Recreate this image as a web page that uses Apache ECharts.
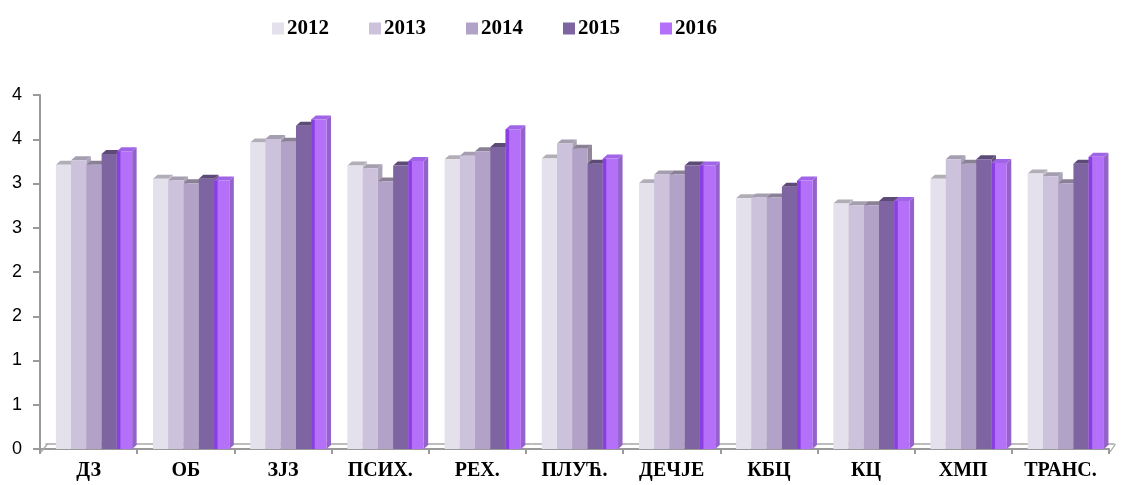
<!DOCTYPE html>
<html><head><meta charset="utf-8">
<script src="https://cdn.jsdelivr.net/npm/echarts@6/dist/echarts.min.js"></script>
<style>html,body{margin:0;padding:0;background:#fff}#c{width:1123px;height:485px}</style>
</head><body><div id="c"></div>
<script>
const categories = ['ДЗ','ОБ','ЗЈЗ','ПСИХ.','РЕХ.','ПЛУЋ.','ДЕЧЈЕ','КБЦ','КЦ','ХМП','ТРАНС.'];
const years = ['2012','2013','2014','2015','2016'];
const v2012 = [3.23,3.07,3.48,3.22,3.29,3.30,3.02,2.85,2.79,3.07,3.13];
const v2013 = [3.28,3.05,3.52,3.19,3.33,3.47,3.12,2.86,2.77,3.29,3.10];
const v2014 = [3.23,3.02,3.49,3.04,3.38,3.41,3.12,2.86,2.77,3.24,3.02];
const v2015 = [3.35,3.07,3.67,3.22,3.43,3.24,3.22,2.98,2.82,3.29,3.24];
const v2016 = [3.38,3.05,3.74,3.27,3.63,3.30,3.22,3.05,2.82,3.25,3.32];
const yTickLabels = ['0','1','1','2','2','3','3','4','4'];

const seriesValues = [v2012,v2013,v2014,v2015,v2016];
const frontColors = ['#e4e0ec','#cdc2dc','#b2a2c8','#7e64a1','#b470f8'];
const topColors   = ['#b1aeb7','#a59eb0','#8b8197','#5d4a77','#a064e6'];
const sideColors  = ['#c4c0cc','#aaa2b6','#918699','#65527f','#9462ca'];

const BAR_FRAC = 0.157, SHIFT = 5.4, DX = 4.5, DY = 4;

function makeRender(si){
  return function(params, api){
    const ci = api.value(0), v = api.value(1);
    const base = api.coord([ci, 0]);
    const top = api.coord([ci, v]);
    const band = api.size([1,0])[0];
    const bw = band*BAR_FRAC;
    const x0 = base[0] - bw*2.5 + SHIFT + si*bw;
    const x1 = x0 + bw;
    const yT = top[1] + 1.5, yB = base[1];
    const children = [];
    if (si === 0) {
      children.push({type:'line', shape:{x1: base[0]-band/2 + DX + 1, y1: yB-DY-1, x2: base[0]+band/2 + DX + 1, y2: yB-DY-1},
        style:{stroke:'#a6a6a6', lineWidth:1.5}, z2:0});
      if (ci === 0) {
        children.push({type:'line', shape:{x1: base[0]-band/2+1, y1: yB+3, x2: base[0]-band/2 + DX + 3, y2: yB-DY-1},
          style:{stroke:'#a6a6a6', lineWidth:1.2}, z2:0});
      }
      if (ci === categories.length-1) {
        children.push({type:'line', shape:{x1: base[0]+band/2+1, y1: yB+3, x2: base[0]+band/2 + DX + 2, y2: yB-DY-1},
          style:{stroke:'#a6a6a6', lineWidth:1.2}, z2:0});
      }
    }
    children.push({type:'polygon', shape:{points:[[x1,yT],[x1+DX,yT-DY],[x1+DX,yB-DY],[x1,yB]]},
      style:{fill:sideColors[si]}, z2:1});
    children.push({type:'polygon', shape:{points:[[x0,yT],[x0+DX,yT-DY],[x1+DX,yT-DY],[x1,yT]]},
      style:{fill:topColors[si]}, z2:1});
    children.push({type:'rect', shape:{x:x0, y:yT, width:bw, height:yB-yT},
      style:{fill:frontColors[si]}, z2:2});
    if (si === 4) {
      children.push({type:'rect', shape:{x:x0, y:yT, width:3.5, height:yB-yT},
        style:{fill:'#8a40e0'}, z2:3});
    }
    return {type:'group', children};
  };
}

const series = years.map((y, si) => ({
  name: y,
  type: 'custom',
  renderItem: makeRender(si),
  encode: {x:0, y:1},
  data: seriesValues[si].map((val, ci) => [ci, val]),
  itemStyle: {color: frontColors[si]},
  z: 2 + si
}));

const chart = echarts.init(document.getElementById('c'), null, {renderer:'canvas'});
chart.setOption({
  animation: false,
  backgroundColor: '#ffffff',
  legend: {
    data: years,
    top: 13,
    left: 267,
    icon: 'rect',
    itemWidth: 12,
    itemHeight: 12,
    itemGap: 40,
    textStyle: {fontFamily: 'Liberation Serif', fontWeight: 'bold', fontSize: 21, color: '#000', padding:[0,0,0,-2]}
  },
  grid: {left: 40, right: 14, top: 95, bottom: 36, containLabel: false},
  xAxis: {
    type: 'category',
    data: categories,
    offset: 3,
    axisLine: {lineStyle: {color: '#9a9a9a', width: 2}},
    axisTick: {show: true, length: 5, lineStyle: {color: '#9a9a9a', width: 2}},
    axisLabel: {fontFamily: 'Liberation Serif', fontWeight: 'bold', fontSize: 20, color: '#000', margin: 9, interval: 0}
  },
  yAxis: {
    type: 'value',
    min: 0, max: 4, interval: 0.5,
    axisLine: {show: true, lineStyle: {color: '#9a9a9a', width: 2}},
    axisTick: {show: true, length: 7, lineStyle: {color: '#9a9a9a', width: 2}},
    splitLine: {show: false},
    axisLabel: {fontFamily: 'Liberation Sans', fontSize: 18, color: '#000', margin: 18,
      formatter: (val) => yTickLabels[Math.round(val/0.5)]}
  },
  series
});
</script></body></html>
